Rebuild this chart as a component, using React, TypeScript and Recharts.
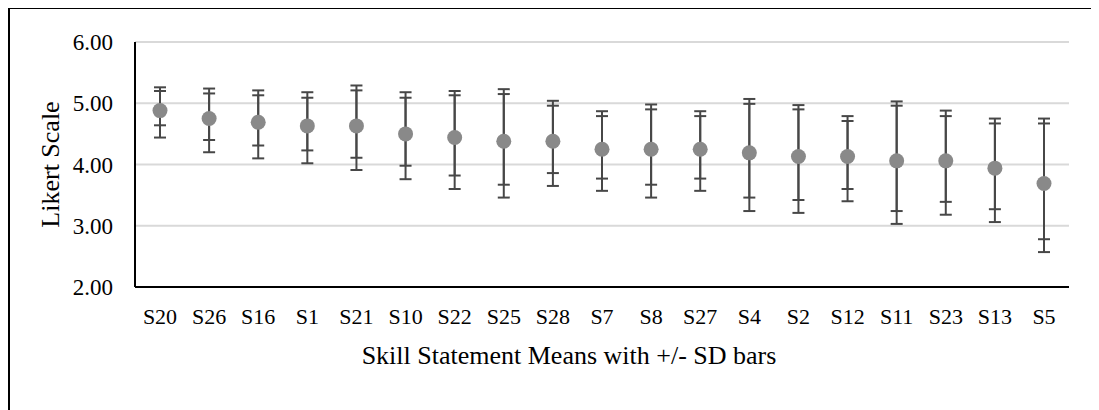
import React from 'react';
import { LineChart, Line, XAxis, YAxis, CartesianGrid, ErrorBar, Label } from 'recharts';

const statements = ['S20', 'S26', 'S16', 'S1', 'S21', 'S10', 'S22', 'S25', 'S28', 'S7', 'S8', 'S27', 'S4', 'S2', 'S12', 'S11', 'S23', 'S13', 'S5'];
const means = [4.88, 4.75, 4.69, 4.63, 4.63, 4.5, 4.44, 4.38, 4.38, 4.25, 4.25, 4.25, 4.19, 4.13, 4.13, 4.06, 4.06, 3.94, 3.69];
const outerHigh = [5.26, 5.24, 5.21, 5.18, 5.29, 5.18, 5.2, 5.23, 5.04, 4.87, 4.98, 4.87, 5.07, 4.97, 4.79, 5.03, 4.88, 4.75, 4.75];
const innerHigh = [5.2, 5.16, 5.13, 5.09, 5.21, 5.09, 5.13, 5.15, 4.96, 4.79, 4.9, 4.79, 4.99, 4.9, 4.71, 4.96, 4.79, 4.67, 4.67];
const innerLow = [4.64, 4.4, 4.31, 4.23, 4.11, 3.98, 3.82, 3.67, 3.86, 3.77, 3.67, 3.77, 3.46, 3.42, 3.6, 3.24, 3.39, 3.27, 2.78];
const outerLow = [4.44, 4.2, 4.1, 4.02, 3.91, 3.76, 3.6, 3.46, 3.65, 3.57, 3.46, 3.57, 3.24, 3.21, 3.4, 3.03, 3.18, 3.06, 2.57];
const yTicks = [2, 3, 4, 5, 6];

const data = statements.map((name, i) => ({
  name,
  mean: means[i],
  outer: [means[i] - outerLow[i], outerHigh[i] - means[i]],
  inner: [means[i] - innerLow[i], innerHigh[i] - means[i]],
}));

const font = '"Liberation Serif", "Times New Roman", serif';
const barColor = '#474747';

export default function App() {
  return (
    <div style={{ position: 'relative', width: 1099, height: 410, margin: '-8px 0 0 -8px', overflow: 'hidden', background: '#fff', fontFamily: font }}>
      <div style={{ position: 'absolute', left: 19, top: -17, fontSize: 19, lineHeight: '19px', color: '#000' }}>Figure</div>
      <div style={{ position: 'absolute', left: 7, top: 6, width: 1200, height: 500, borderLeft: '3px solid #000', borderTop: '3px solid #000' }} />
      <div style={{ position: 'absolute', left: 0, top: 0 }}>
        <LineChart width={1099} height={410} data={data} margin={{ top: 42, right: 30, bottom: 83, left: 0 }}>
          <CartesianGrid vertical={false} stroke="#d9d9d9" strokeWidth={2} />
          <XAxis
            dataKey="name"
            padding={{ left: 25, right: 25 }}
            height={40}
            tickLine={false}
            tickSize={0}
            tickMargin={21}
            axisLine={{ stroke: '#000', strokeWidth: 2 }}
            tick={{ fill: '#000', fontSize: 22, fontFamily: font }}
            interval={0}
          >
            <Label value="Skill Statement Means with +/- SD bars" position="bottom" offset={19} dx={-33} style={{ fill: '#000', fontSize: 26, fontFamily: font }} />
          </XAxis>
          <XAxis xAxisId="top" dataKey="name" orientation="top" height={0} tick={false} tickLine={false} axisLine={{ stroke: '#000', strokeWidth: 2 }} />
          <YAxis
            domain={[2, 6]}
            ticks={yTicks}
            width={135}
            tickLine={false}
            tickSize={0}
            tickMargin={22}
            tickFormatter={(v: number) => v.toFixed(2)}
            axisLine={{ stroke: '#000', strokeWidth: 2 }}
            tick={{ fill: '#000', fontSize: 23, fontFamily: font }}
          >
            <Label value="Likert Scale" angle={-90} position="insideLeft" offset={50} style={{ textAnchor: 'middle', fill: '#000', fontSize: 26, fontFamily: font }} />
          </YAxis>
          <YAxis yAxisId="right" orientation="right" domain={[2, 6]} width={0} tick={false} tickLine={false} axisLine={{ stroke: '#000', strokeWidth: 2 }} />
          <Line
            dataKey="mean"
            stroke="none"
            isAnimationActive={false}
            dot={{ r: 7.5, fill: '#898989', stroke: 'none' }}
            activeDot={false}
          >
            <ErrorBar dataKey="outer" direction="y" width={6} stroke={barColor} strokeWidth={2} isAnimationActive={false} />
            <ErrorBar dataKey="inner" direction="y" width={6} stroke={barColor} strokeWidth={2} isAnimationActive={false} />
          </Line>
        </LineChart>
      </div>
    </div>
  );
}
